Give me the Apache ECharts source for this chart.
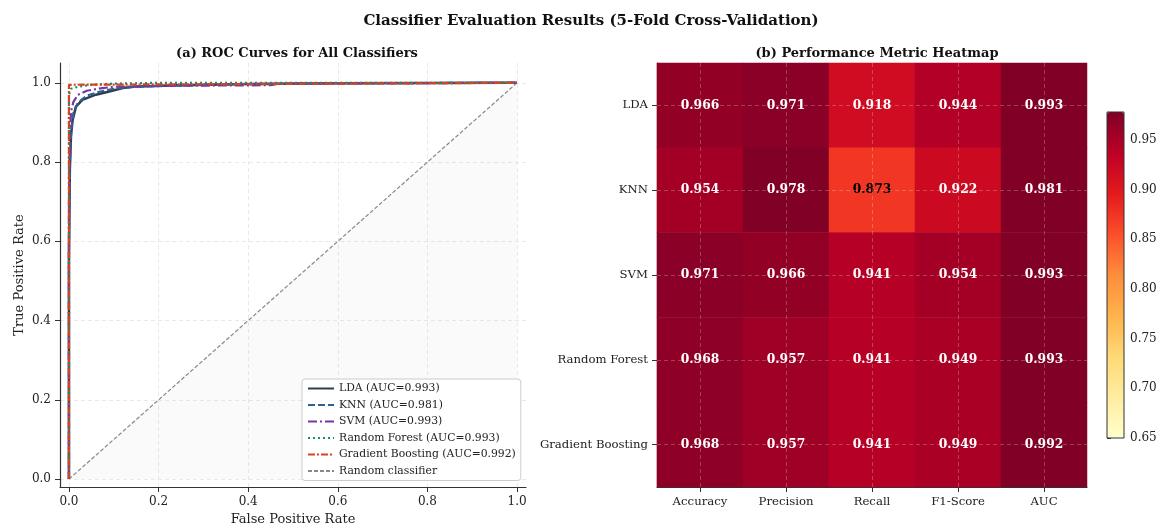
<!DOCTYPE html>
<html>
<head>
<meta charset="utf-8">
<script src="https://cdn.jsdelivr.net/npm/echarts@6/dist/echarts.min.js"></script>
<style>
html,body{margin:0;padding:0;background:#fff;}
#c{width:1164px;height:526px;}
</style>
</head>
<body>
<div id="c"></div>
<script>
// ---------- data ----------
const classifiers = ['LDA', 'KNN', 'SVM', 'Random Forest', 'Gradient Boosting'];
const metrics = ['Accuracy', 'Precision', 'Recall', 'F1-Score', 'AUC'];
const ldaScores = [0.966, 0.971, 0.918, 0.944, 0.993];
const knnScores = [0.954, 0.978, 0.873, 0.922, 0.981];
const svmScores = [0.971, 0.966, 0.941, 0.954, 0.993];
const rfScores  = [0.968, 0.957, 0.941, 0.949, 0.993];
const gbScores  = [0.968, 0.957, 0.941, 0.949, 0.992];
const aucLabels = ['0.993', '0.981', '0.993', '0.993', '0.992'];

// ROC points [FPR, TPR]
const rocLDA = [[0,0],[0,0.55],[0.002,0.78],[0.0045,0.865],[0.008,0.905],[0.0156,0.94],[0.03,0.957],[0.06,0.97],[0.09,0.978],[0.12,0.987],[0.15,0.991],[0.25,0.994],[0.4,0.997],[0.6,0.999],[1,1]];
const rocKNN = [[0,0],[0,0.6],[0.002,0.8],[0.005,0.88],[0.01,0.925],[0.02,0.95],[0.04,0.968],[0.07,0.978],[0.1,0.985],[0.15,0.99],[0.3,0.995],[0.6,0.999],[1,1]];
const rocSVM = [[0,0],[0,0.7],[0.002,0.88],[0.005,0.93],[0.01,0.952],[0.02,0.97],[0.04,0.98],[0.07,0.986],[0.1,0.99],[0.2,0.992],[0.3,0.993],[0.45,0.994],[0.47,0.998],[1,1]];
const rocRF  = [[0,0],[0,0.97],[0.005,0.985],[0.02,0.99],[0.05,0.995],[0.1,0.998],[0.2,1],[1,1]];
const rocGB  = [[0,0],[0,0.995],[0.003,1],[1,1]];
const rocRandom = [[0,0],[1,1]];
const rocTicks = [0, 0.2, 0.4, 0.6, 0.8, 1.0];
const cbarTicks = [0.65, 0.70, 0.75, 0.80, 0.85, 0.90, 0.95];
const cbarMin = 0.65, cbarMax = 0.978;

// ---------- build ----------
const scoreRows = [ldaScores, knnScores, svmScores, rfScores, gbScores];
const heatData = [];
scoreRows.forEach((row, yi) => row.forEach((v, xi) => {
  heatData.push({ value: [xi, yi, v], label: { color: v < 0.9 ? '#000' : '#fff' } });
}));

const SERIF = 'DejaVu Serif';
const YlOrRd = ['#ffffcc','#ffeda0','#fed976','#feb24c','#fd8d3c','#fc4e2a','#e31a1c','#bd0026','#800026'];

const rocSeries = [
  { name: 'LDA (AUC=' + aucLabels[0] + ')', data: rocLDA, color: '#2c3e50', type: 'solid', width: 2.5 },
  { name: 'KNN (AUC=' + aucLabels[1] + ')', data: rocKNN, color: '#2e6090', type: [7, 3], width: 2.2 },
  { name: 'SVM (AUC=' + aucLabels[2] + ')', data: rocSVM, color: '#7637a8', type: [9, 3, 2, 3], width: 2.2 },
  { name: 'Random Forest (AUC=' + aucLabels[3] + ')', data: rocRF, color: '#138d75', type: [2, 3], width: 2.2 },
  { name: 'Gradient Boosting (AUC=' + aucLabels[4] + ')', data: rocGB, color: '#d5441c', type: [7, 2, 2, 2], width: 2.2 }
].map((s, i) => ({
  type: 'line', name: s.name, data: s.data, xAxisIndex: 0, yAxisIndex: 0,
  showSymbol: false, symbol: 'none', z: 3 + i,
  itemStyle: { color: s.color },
  lineStyle: { color: s.color, width: s.width, type: s.type }
}));

rocSeries.push({
  type: 'line', name: 'Random classifier', data: rocRandom, xAxisIndex: 0, yAxisIndex: 0,
  showSymbol: false, symbol: 'none', z: 2,
  itemStyle: { color: '#888' },
  lineStyle: { color: '#888', width: 1.2, type: [4, 2] },
  areaStyle: { color: 'rgba(160,160,160,0.08)', origin: 0 }
});

const chart = echarts.init(document.getElementById('c'));
chart.setOption({
  backgroundColor: '#fff',
  animation: false,
  textStyle: { fontFamily: SERIF },
  title: [
    { text: 'Classifier Evaluation Results (5-Fold Cross-Validation)', left: 586, top: 9, textAlign: 'center',
      textStyle: { fontFamily: SERIF, fontWeight: 'bold', fontSize: 15, color: '#111' } },
    { text: '(a) ROC Curves for All Classifiers', left: 292, top: 42, textAlign: 'center',
      textStyle: { fontFamily: SERIF, fontWeight: 'bold', fontSize: 13, color: '#111' } },
    { text: '(b) Performance Metric Heatmap', left: 872, top: 42, textAlign: 'center',
      textStyle: { fontFamily: SERIF, fontWeight: 'bold', fontSize: 13, color: '#111' } }
  ],
  legend: {
    data: rocSeries.map(s => s.name),
    orient: 'vertical', left: 302, top: 379,
    backgroundColor: 'rgba(255,255,255,0.9)', borderColor: '#ccc', borderWidth: 1, borderRadius: 3,
    padding: [4, 5, 4, 5], itemGap: 5.5, itemWidth: 26, itemHeight: 11,
    itemStyle: { opacity: 0 },
    textStyle: { fontFamily: SERIF, fontSize: 10.8, color: '#222' }
  },
  grid: [
    { left: 60, top: 63, width: 466, height: 424, containLabel: false, outerBoundsMode: 'none' },
    { left: 657, top: 63, width: 430, height: 424, containLabel: false, outerBoundsMode: 'none' },
    { left: 1107, top: 112, width: 17, height: 326, containLabel: false, outerBoundsMode: 'none', show: true, borderColor: '#333', borderWidth: 1, backgroundColor: 'transparent', z: 10 }
  ],
  xAxis: [
    { type: 'value', gridIndex: 0, min: -0.02, max: 1.02,
      name: 'False Positive Rate', nameLocation: 'middle', nameGap: 26,
      nameTextStyle: { fontFamily: SERIF, fontSize: 13, color: '#222' },
      axisLine: { show: true, onZero: false, lineStyle: { color: '#333', width: 1.2 } },
      axisTick: { show: true, length: 5, customValues: rocTicks, lineStyle: { color: '#333' } },
      axisLabel: { customValues: rocTicks, fontFamily: SERIF, fontSize: 12, color: '#222', margin: 9, formatter: v => v.toFixed(1) },
      splitLine: { show: true, lineStyle: { color: '#e3e3e3', type: [4, 3], width: 0.8 } } },
    { type: 'category', gridIndex: 1, data: metrics,
      axisLine: { show: true, lineStyle: { color: '#333', width: 1.2 } },
      axisTick: { show: true, alignWithLabel: true, length: 5, lineStyle: { color: '#333' } },
      axisLabel: { fontFamily: SERIF, fontSize: 11.7, color: '#222', margin: 9 },
      splitLine: { show: false } },
    { type: 'value', gridIndex: 2, show: false, min: 0, max: 1 }
  ],
  yAxis: [
    { type: 'value', gridIndex: 0, min: -0.02, max: 1.05,
      name: 'True Positive Rate', nameLocation: 'middle', nameGap: 34, nameRotate: 90,
      nameTextStyle: { fontFamily: SERIF, fontSize: 13, color: '#222' },
      axisLine: { show: true, onZero: false, lineStyle: { color: '#333', width: 1.2 } },
      axisTick: { show: true, length: 5, customValues: rocTicks, lineStyle: { color: '#333' } },
      axisLabel: { customValues: rocTicks, fontFamily: SERIF, fontSize: 12, color: '#222', margin: 9, formatter: v => v.toFixed(1) },
      splitLine: { show: true, lineStyle: { color: '#e3e3e3', type: [4, 3], width: 0.8 } } },
    { type: 'category', gridIndex: 1, data: classifiers, inverse: true,
      axisLine: { show: true, lineStyle: { color: '#333', width: 1.2 } },
      axisTick: { show: true, alignWithLabel: true, length: 5, lineStyle: { color: '#333' } },
      axisLabel: { fontFamily: SERIF, fontSize: 11.7, color: '#222', margin: 9 },
      splitLine: { show: false } },
    { type: 'value', gridIndex: 2, position: 'right', min: cbarMin, max: cbarMax,
      axisLine: { show: false },
      axisTick: { show: true, length: 4, customValues: cbarTicks, lineStyle: { color: '#333' } },
      axisLabel: { customValues: cbarTicks, fontFamily: SERIF, fontSize: 12, color: '#222', margin: 6, formatter: v => v.toFixed(2) },
      splitLine: { show: false } }
  ],
  visualMap: {
    type: 'continuous', min: cbarMin, max: cbarMax, calculable: false, seriesIndex: 6,
    itemWidth: 17, itemHeight: 326, left: 1107, top: 112, padding: 0, text: null,
    inRange: { color: YlOrRd }
  },
  series: rocSeries.concat([{
    type: 'heatmap', xAxisIndex: 1, yAxisIndex: 1, data: heatData,
    label: { show: true, fontFamily: SERIF, fontSize: 12.3, fontWeight: 'bold', formatter: p => p.value[2].toFixed(3) },
    emphasis: { disabled: true },
    markLine: {
      silent: true, symbol: 'none', label: { show: false },
      lineStyle: { color: 'rgba(255,255,255,0.3)', type: [4, 3], width: 0.8 },
      data: metrics.map(m => ({ xAxis: m })).concat(classifiers.map(c => ({ yAxis: c })))
    }
  }])
});
</script>
</body>
</html>
